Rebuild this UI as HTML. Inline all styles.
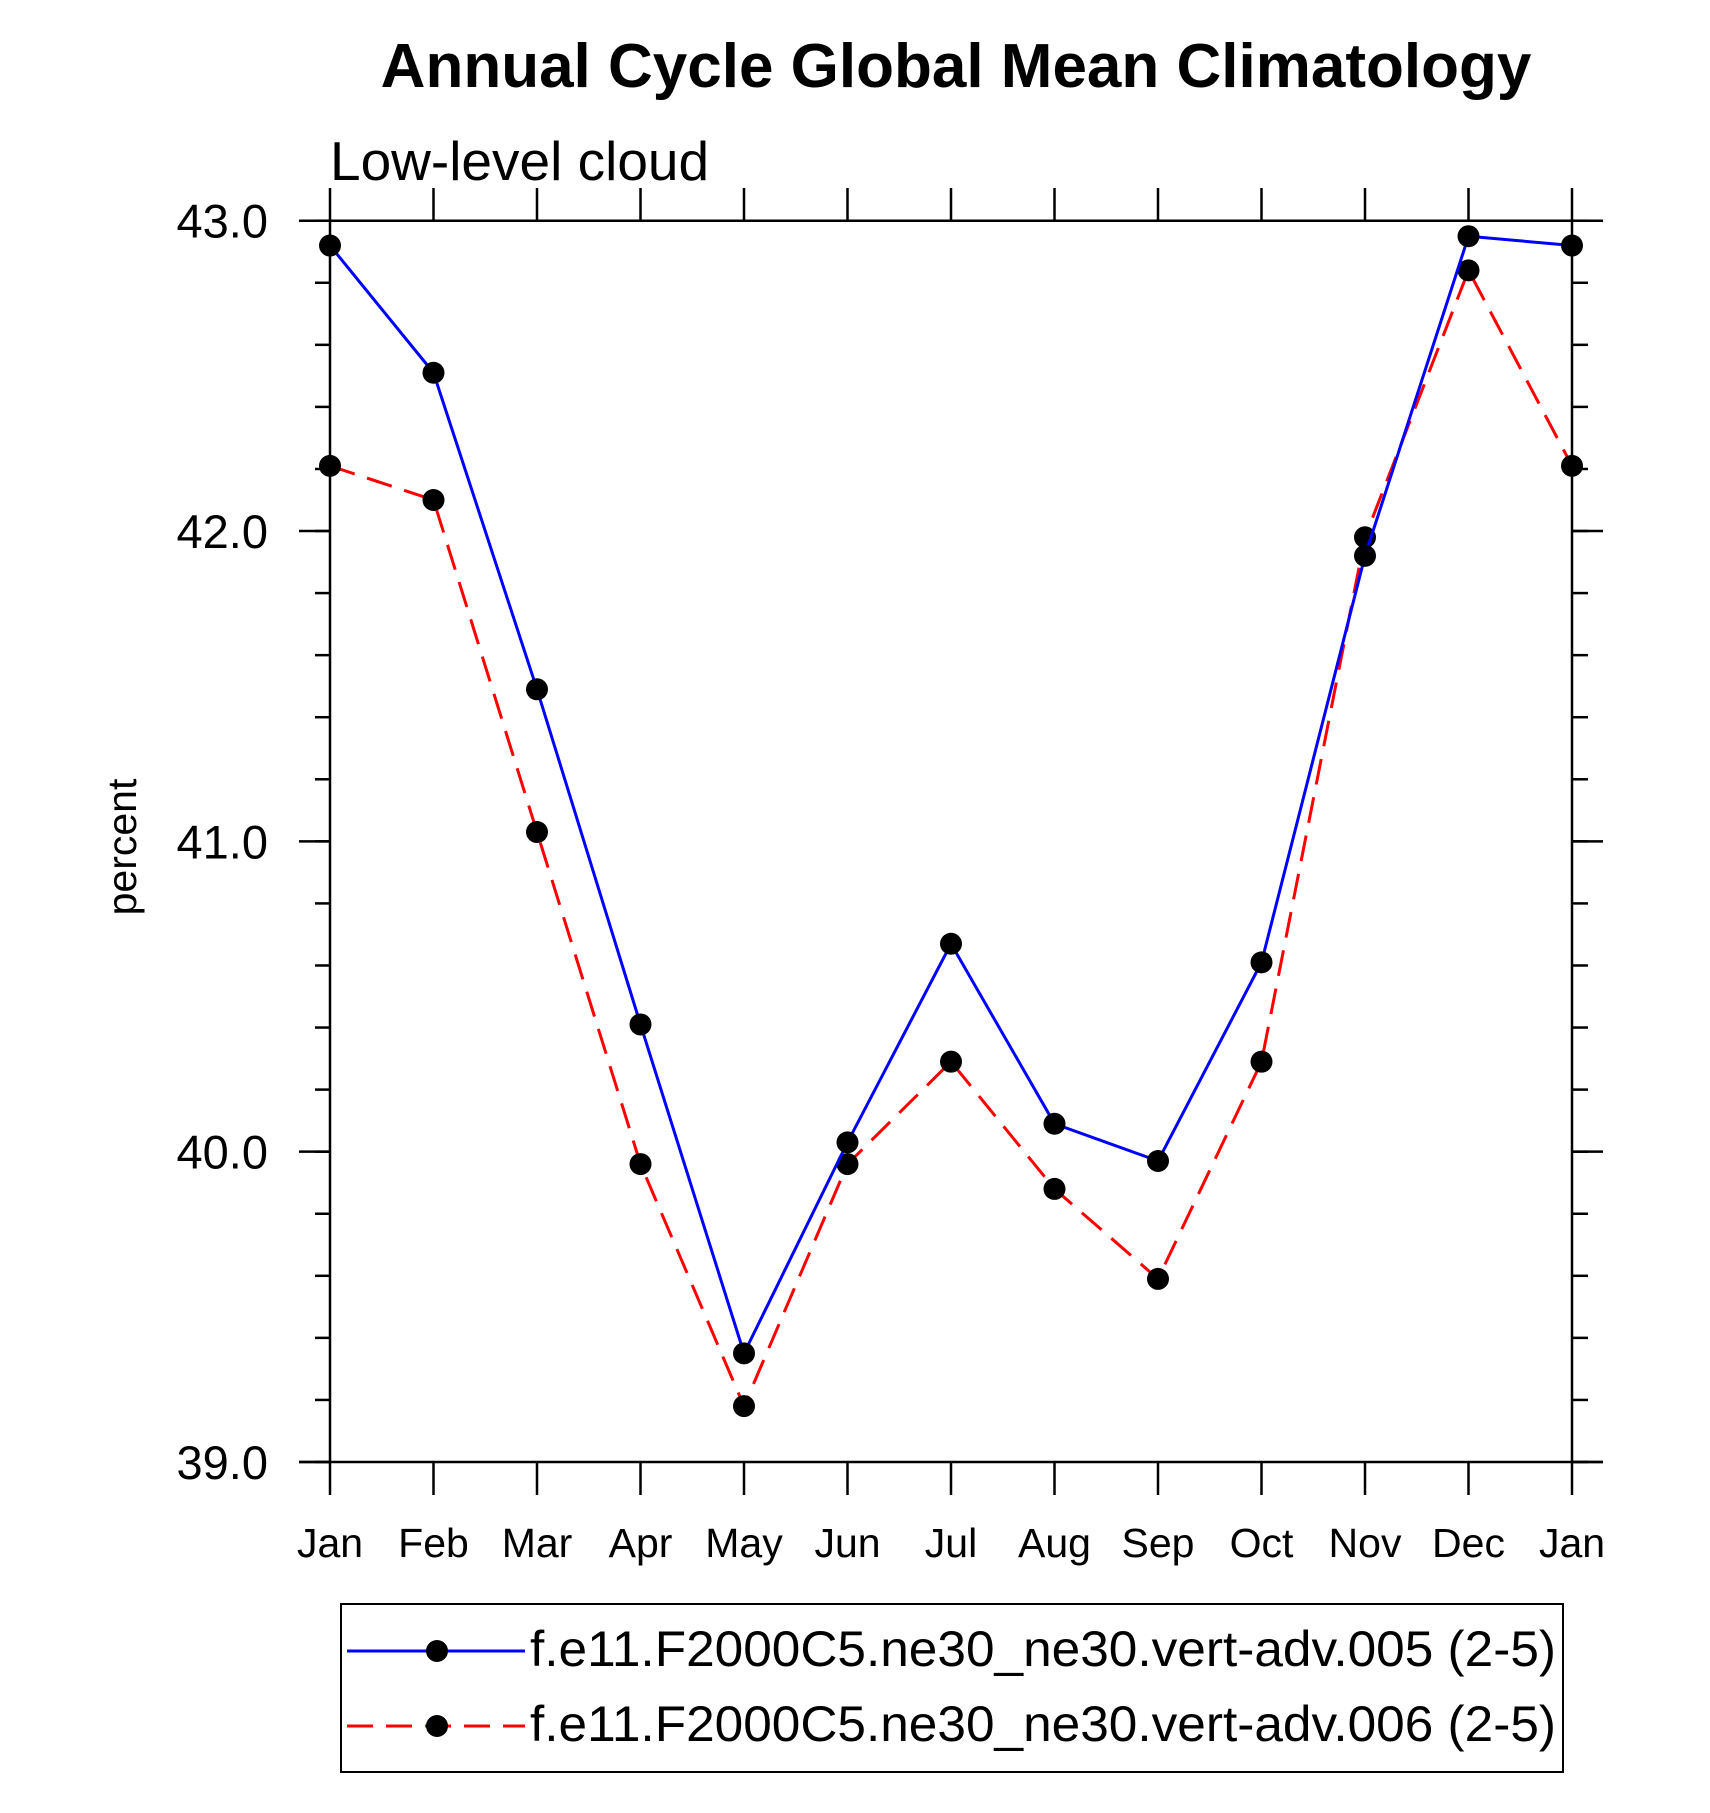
<!DOCTYPE html>
<html><head><meta charset="utf-8"><style>
html,body{margin:0;padding:0;background:#fff;}
svg{display:block;font-family:"Liberation Sans",Arial,sans-serif;}
</style></head><body>
<svg id="chart" width="1710" height="1813" viewBox="0 0 1710 1813">
<text x="956" y="87" text-anchor="middle" font-size="62" font-weight="bold">Annual Cycle Global Mean Climatology</text>
<text x="330" y="180" font-size="55">Low-level cloud</text>
<text transform="translate(136,847) rotate(-90)" text-anchor="middle" font-size="41">percent</text>
<g id="axes"></g>
<g id="series"></g>
<g>
<rect x="341" y="1604" width="1222" height="168" fill="none" stroke="#000" stroke-width="2"/>
<g>
<line x1="347" y1="1651" x2="525" y2="1651" stroke="#0000ff" stroke-width="3"/>
<circle cx="437" cy="1651" r="11" fill="#000"/>
<text x="530" y="1666" font-size="50" textLength="1026" lengthAdjust="spacingAndGlyphs">f.e11.F2000C5.ne30_ne30.vert-adv.005 (2-5)</text>
</g>
<g>
<line x1="347" y1="1726" x2="525" y2="1726" stroke="#ff0000" stroke-width="3" stroke-dasharray="26,13"/>
<circle cx="437" cy="1726" r="11" fill="#000"/>
<text x="530" y="1741" font-size="50" textLength="1026" lengthAdjust="spacingAndGlyphs">f.e11.F2000C5.ne30_ne30.vert-adv.006 (2-5)</text>
</g>
</g>
</svg>
<script>
const months = ["Jan","Feb","Mar","Apr","May","Jun","Jul","Aug","Sep","Oct","Nov","Dec","Jan"];
const series005 = [42.92,42.51,41.49,40.41,39.35,40.03,40.67,40.09,39.97,40.61,41.92,42.95,42.92];
const series006 = [42.21,42.10,41.03,39.96,39.18,39.96,40.29,39.88,39.59,40.29,41.98,42.84,42.21];
const yTicks = [39.0,40.0,41.0,42.0,43.0];
const yTickLabels = ["39.0","40.0","41.0","42.0","43.0"];

const NS="http://www.w3.org/2000/svg";
const L=330,R=1572,T=220.7,B=1462,YMIN=39,YMAX=43;
function xs(i){return L+(R-L)*i/(months.length-1);}
function ys(v){return B-(v-YMIN)/(YMAX-YMIN)*(B-T);}
function mk(tag,attrs,parent){const e=document.createElementNS(NS,tag);for(const k in attrs)e.setAttribute(k,attrs[k]);parent.appendChild(e);return e;}
const axes=document.getElementById('axes');
const st={stroke:"#000","stroke-width":2.5};
let e;
e=mk('line',{x1:299,y1:T,x2:1603,y2:T,...st},axes);


e=mk('line',{x1:299,y1:B,x2:1603,y2:B,...st},axes);


e=mk('line',{x1:L,y1:T,x2:L,y2:B,...st},axes);


e=mk('line',{x1:R,y1:T,x2:R,y2:B,...st},axes);


months.forEach((m,i)=>{
  const x=xs(i);
  mk('line',{x1:x,y1:T,x2:x,y2:188,...st},axes);
  mk('line',{x1:x,y1:B,x2:x,y2:1495,...st},axes);
  const t=mk('text',{x:x,y:1557,"text-anchor":"middle","font-size":41},axes);
  t.textContent=m;
  
  
});
for(let v=YMIN;v<=YMAX+1e-9;v+=0.2){
  const y=ys(v);
  mk('line',{x1:315,y1:y,x2:L,y2:y,...st},axes);
  mk('line',{x1:R,y1:y,x2:1588,y2:y,...st},axes);
}
yTicks.forEach((v,i)=>{
  const y=ys(v);
  mk('line',{x1:299,y1:y,x2:L,y2:y,...st},axes);
  mk('line',{x1:R,y1:y,x2:1603,y2:y,...st},axes);
  const t=mk('text',{x:268,y:y+17,"text-anchor":"end","font-size":47},axes);
  t.textContent=yTickLabels[i];
  
  
});
const sg=document.getElementById('series');
function draw(vals,color,dash,name){
  const g=mk('g',{},sg);
  
  
  const pts=vals.map((v,i)=>xs(i)+","+ys(v)).join(" ");
  const attrs={points:pts,fill:"none",stroke:color,"stroke-width":3};
  if(dash)attrs["stroke-dasharray"]=dash;
  mk('polyline',attrs,g);
  vals.forEach((v,i)=>{
    const c=mk('circle',{cx:xs(i),cy:ys(v),r:11,fill:"#000"},g);
    
    
  });
}
draw(series006,"#ff0000","26,13","series-006-line");
draw(series005,"#0000ff",null,"series-005-line");
</script>
</body></html>
